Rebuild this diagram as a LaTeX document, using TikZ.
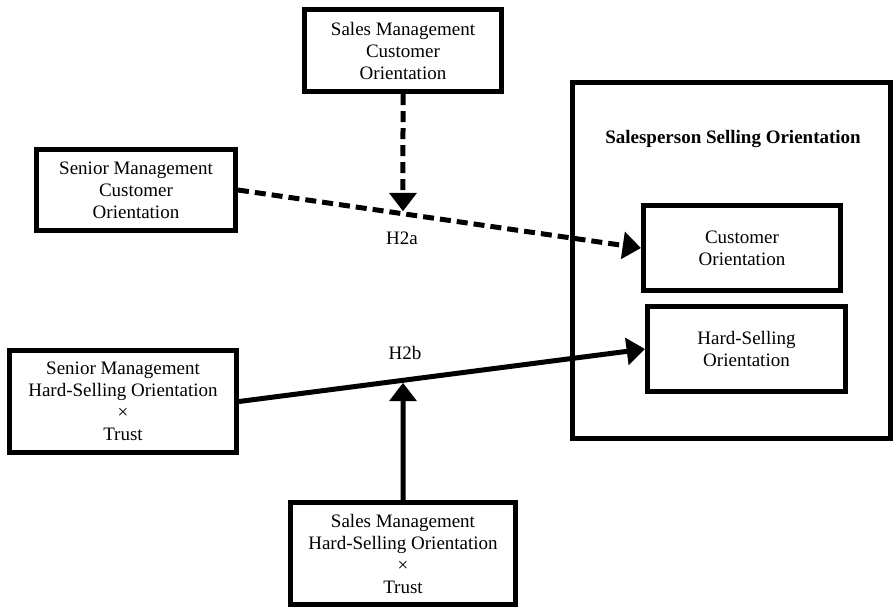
\documentclass[tikz,border=0pt]{standalone}
\usepackage{fontspec}
\setmainfont{Liberation Serif}
\usetikzlibrary{arrows.meta, positioning, calc}

\begin{document}
\begin{tikzpicture}[> = {Triangle[width=16pt, length=11pt]}, % arrow head style
                x = 0.6pt, y = -0.6pt, % one unit is one pixel of the layout
                font = \fontsize{11.4}{13.2}\selectfont,
                box/.style = {draw, line width = 3pt, align = center, inner sep = 0pt},
                link/.style = {->, line width = 3pt},
                dashlink/.style = {link, dash pattern = on 6.6pt off 3.6pt}
            ]

            \useasboundingbox (0,0) rectangle (894,610);

            % outcome block
            \node[box, minimum width = 190.8pt, minimum height = 213.6pt] (sso) at (731.5,260.5) {};
            \node[font = \fontsize{11.4}{13.2}\selectfont\bfseries] (ssotitle) at (733,139)
                {Salesperson Selling Orientation};
            \node[box, minimum width = 118.2pt, minimum height = 51pt] (cust) at (742,248)
                {Customer\\Orientation};
            \node[box, minimum width = 118.8pt, minimum height = 51pt, below = 6.6pt of cust,
                xshift = 2.7pt] (hard) {Hard-Selling\\Orientation};

            % predictors and moderators
            \node[box, minimum width = 118.2pt, minimum height = 49.2pt] (smco) at (403,50.5)
                {Sales Management\\Customer\\Orientation};
            \node[box, minimum width = 119.4pt, minimum height = 48.6pt] (snco) at (136,190)
                {Senior Management\\Customer\\Orientation};
            \node[box, minimum width = 136.2pt, minimum height = 61.2pt] (snhs) at (123,401.5)
                {Senior Management\\Hard-Selling Orientation\\×\\Trust};
            \node[box, minimum width = 135pt, minimum height = 61.2pt] (smhs) at (403,553.5)
                {Sales Management\\Hard-Selling Orientation\\×\\Trust};

            % points where the moderators meet the paths
            \coordinate (h2afoot) at (smco.south |- cust.west);
            \coordinate (h2a) at (intersection of snco.east--cust.west and smco.south--h2afoot);
            \coordinate (h2bfoot) at (smhs.north |- hard.west);
            \coordinate (h2b) at (intersection of snhs.east--hard.west and smhs.north--h2bfoot);

            \draw[dashlink] (snco.east) -- (cust.west);
            \draw[dashlink, shorten > = 1.5pt] (smco.south) -- (h2a);
            \draw[link] (snhs.east) -- (hard.west);
            \draw[link, shorten > = 1.5pt] (smhs.north) -- (h2b);

            \node (lblh2a) at (402,238) {H2a};
            \node (lblh2b) at (405,353) {H2b};
\end{tikzpicture}
\end{document}
